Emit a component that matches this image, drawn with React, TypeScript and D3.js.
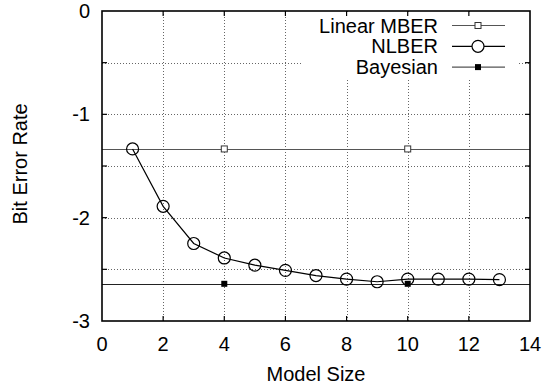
import React from "react";
import * as d3 from "d3";

// data
const modelSize = [1, 2, 3, 4, 5, 6, 7, 8, 9, 10, 11, 12, 13];
const nlber = [-1.335, -1.89, -2.25, -2.39, -2.46, -2.51, -2.56, -2.595, -2.62, -2.595, -2.595, -2.595, -2.6];
const mberLevel = -1.335;
const mberMarks = [4, 10];
const bayesLevel = -2.64;
const bayesMarks = [4, 10];
const xTicks = [0, 2, 4, 6, 8, 10, 12, 14];
const yTicks = [0, -0.5, -1, -1.5, -2, -2.5, -3];
const yLabels = [0, -1, -2, -3];
const legendNames = ["Linear MBER", "NLBER", "Bayesian"];

const FONT = "'Liberation Sans', Arial, Helvetica, sans-serif";

export default class App extends React.Component {
  myRef = React.createRef<HTMLDivElement>();

  drawModel = () => {
    const width = 546, height = 388;
    const left = 102, right = 530, top = 11, bottom = 321;

    d3.select(this.myRef.current).selectAll("*").remove();
    const svg = d3.select(this.myRef.current)
      .append("svg")
      .attr("width", width)
      .attr("height", height)
      .style("display", "block")
      .style("font-family", FONT);

    const x = d3.scaleLinear().domain([0, 14]).range([left, right]);
    const y = d3.scaleLinear().domain([-3, 0]).range([bottom, top]);

    svg.append("rect").attr("width", width).attr("height", height).attr("fill", "white");

    // grid
    const grid = svg.append("g")
      .attr("stroke", "#666")
      .attr("stroke-width", 1)
      .attr("stroke-dasharray", "1,2");
    grid.selectAll("line.gx")
      .data(xTicks.slice(1, -1))
      .enter().append("line")
      .attr("x1", d => Math.round(x(d)) + 0.5).attr("x2", d => Math.round(x(d)) + 0.5)
      .attr("y1", top).attr("y2", bottom);
    grid.selectAll("line.gy")
      .data(yTicks.slice(1, -1))
      .enter().append("line")
      .attr("y1", d => Math.round(y(d)) + 0.5).attr("y2", d => Math.round(y(d)) + 0.5)
      .attr("x1", left).attr("x2", right);

    // legend background hides the grid
    svg.append("rect")
      .attr("x", 303).attr("y", top + 1)
      .attr("width", 215).attr("height", 66)
      .attr("fill", "white");

    const plot = svg.append("g");

    // Linear MBER
    plot.append("line")
      .attr("x1", x(0)).attr("x2", x(14))
      .attr("y1", Math.round(y(mberLevel)) + 0.5).attr("y2", Math.round(y(mberLevel)) + 0.5)
      .attr("stroke", "#555").attr("stroke-width", 1.2);
    plot.selectAll("rect.mber")
      .data(mberMarks)
      .enter().append("rect")
      .attr("x", d => x(d) - 3).attr("y", y(mberLevel) - 3)
      .attr("width", 6).attr("height", 6)
      .attr("fill", "white").attr("stroke", "#333").attr("stroke-width", 1);

    // Bayesian
    plot.append("line")
      .attr("x1", x(0)).attr("x2", x(14))
      .attr("y1", Math.round(y(bayesLevel)) + 0.5).attr("y2", Math.round(y(bayesLevel)) + 0.5)
      .attr("stroke", "#222").attr("stroke-width", 1.2);
    plot.selectAll("rect.bayes")
      .data(bayesMarks)
      .enter().append("rect")
      .attr("x", d => x(d) - 3).attr("y", y(bayesLevel) - 3)
      .attr("width", 6).attr("height", 6)
      .attr("fill", "black");

    // NLBER
    const line = d3.line<number>()
      .x((d, i) => x(modelSize[i]))
      .y(d => y(d));
    plot.append("path")
      .attr("d", line(nlber))
      .attr("fill", "none").attr("stroke", "black").attr("stroke-width", 1.2);
    plot.selectAll("circle.nl")
      .data(nlber)
      .enter().append("circle")
      .attr("cx", (d, i) => x(modelSize[i])).attr("cy", d => y(d))
      .attr("r", 6)
      .attr("fill", "none").attr("stroke", "black").attr("stroke-width", 1.2);

    // frame and ticks
    svg.append("rect")
      .attr("x", left).attr("y", top)
      .attr("width", right - left).attr("height", bottom - top)
      .attr("fill", "none").attr("stroke", "black").attr("stroke-width", 1.6);
    const ticks = svg.append("g").attr("stroke", "black").attr("stroke-width", 1.2);
    xTicks.slice(1, -1).forEach(t => {
      ticks.append("line").attr("x1", x(t)).attr("x2", x(t)).attr("y1", bottom).attr("y2", bottom - 5);
      ticks.append("line").attr("x1", x(t)).attr("x2", x(t)).attr("y1", top).attr("y2", top + 5);
    });
    yTicks.slice(1, -1).forEach(t => {
      ticks.append("line").attr("y1", y(t)).attr("y2", y(t)).attr("x1", left).attr("x2", left + 5);
      ticks.append("line").attr("y1", y(t)).attr("y2", y(t)).attr("x1", right).attr("x2", right - 5);
    });

    // tick labels
    svg.selectAll("text.xl")
      .data(xTicks)
      .enter().append("text")
      .attr("x", d => x(d)).attr("y", 351)
      .attr("text-anchor", "middle")
      .style("font-size", "20px")
      .text(d => d);
    svg.selectAll("text.yl")
      .data(yLabels)
      .enter().append("text")
      .attr("x", 90).attr("y", d => y(d) + 7)
      .attr("text-anchor", "end")
      .style("font-size", "20px")
      .text(d => d);

    // axis titles
    svg.append("text")
      .attr("x", x(7)).attr("y", 381)
      .attr("text-anchor", "middle")
      .style("font-size", "20px")
      .text("Model Size");
    svg.append("text")
      .attr("transform", "translate(27," + y(-1.48) + ") rotate(-90)")
      .attr("text-anchor", "middle")
      .style("font-size", "20px")
      .text("Bit Error Rate");

    // legend
    const lg = svg.append("g");
    legendNames.forEach((name, i) => {
      const ly = 25.5 + i * 20.8;
      lg.append("text")
        .attr("x", 438).attr("y", ly + 7)
        .attr("text-anchor", "end")
        .style("font-size", "20px")
        .text(name);
      lg.append("line")
        .attr("x1", 452).attr("x2", 505).attr("y1", ly).attr("y2", ly)
        .attr("stroke", i == 1 ? "black" : "#555").attr("stroke-width", 1.2);
      if (i == 0) {
        lg.append("rect").attr("x", 475).attr("y", ly - 3).attr("width", 6).attr("height", 6)
          .attr("fill", "white").attr("stroke", "#333");
      } else if (i == 1) {
        lg.append("circle").attr("cx", 478).attr("cy", ly).attr("r", 6)
          .attr("fill", "white").attr("stroke", "black").attr("stroke-width", 1.2);
      } else {
        lg.append("rect").attr("x", 475).attr("y", ly - 3).attr("width", 6).attr("height", 6)
          .attr("fill", "black");
      }
    });
  };

  componentDidMount() {
    document.body.style.margin = "0";
    this.drawModel();
  }

  render() {
    return <div ref={this.myRef}></div>;
  }
}
